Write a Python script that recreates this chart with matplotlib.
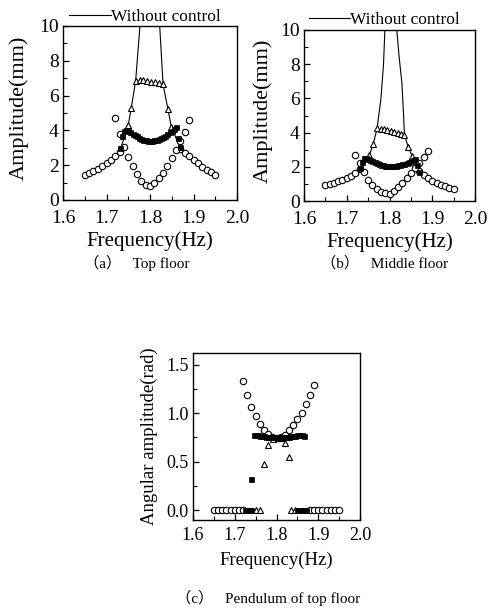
import numpy as np
import matplotlib
matplotlib.use("Agg")
import matplotlib.pyplot as plt
from matplotlib.ticker import MultipleLocator

plt.rcParams['font.family'] = ['Liberation Serif', 'Noto Sans CJK SC', 'DejaVu Sans']
plt.rcParams['mathtext.fontset'] = 'stix'

# ---------------- (a) Top floor ----------------
a_out_l_f = [1.65, 1.66, 1.67, 1.68, 1.69, 1.70, 1.71, 1.72, 1.73]
a_out_l = [1.45, 1.55, 1.65, 1.78, 1.93, 2.10, 2.30, 2.50, 2.78]
a_out_r_f = [1.87, 1.88, 1.89, 1.90, 1.91, 1.92, 1.93, 1.94, 1.95]
a_out_r = [2.95, 2.70, 2.50, 2.30, 2.10, 1.92, 1.75, 1.60, 1.42]
a_in_f = [1.72, 1.73, 1.74, 1.75, 1.76, 1.77, 1.78, 1.79, 1.80,
          1.81, 1.82, 1.83, 1.84, 1.85, 1.86, 1.87, 1.88, 1.89]
a_in = [4.70, 3.80, 3.05, 2.45, 1.95, 1.50, 1.10, 0.85, 0.82,
        1.00, 1.25, 1.55, 1.95, 2.40, 2.90, 3.40, 3.90, 4.60]
a_sq_f = [1.730, 1.735, 1.740, 1.745, 1.750, 1.755, 1.760, 1.765, 1.770, 1.775,
          1.780, 1.785, 1.790, 1.795, 1.800, 1.805, 1.810, 1.815, 1.820, 1.825,
          1.830, 1.835, 1.840, 1.845, 1.850, 1.855, 1.860, 1.865, 1.870]
a_sq = [3.00, 3.65, 3.95, 4.05, 4.00, 3.90, 3.82, 3.74, 3.66, 3.58,
        3.52, 3.47, 3.43, 3.41, 3.40, 3.41, 3.43, 3.46, 3.50, 3.56,
        3.62, 3.70, 3.78, 3.88, 3.98, 4.10, 4.20, 3.55, 3.05]
a_tri_f = [1.750, 1.757, 1.767, 1.776, 1.785, 1.794, 1.803, 1.812, 1.821, 1.830, 1.841, 1.849]
a_tri = [4.30, 5.30, 6.85, 6.90, 6.88, 6.85, 6.80, 6.76, 6.72, 6.65, 5.25, 4.20]
a_nc_f = [1.65, 1.67, 1.69, 1.71, 1.73, 1.75, 1.757, 1.767, 1.78, 1.80,
          1.82, 1.83, 1.841, 1.849, 1.87, 1.89, 1.91, 1.93, 1.95]
a_nc = [1.45, 1.65, 1.93, 2.30, 2.78, 4.30, 5.30, 6.85, 11.0, 20.0,
        11.0, 6.65, 5.25, 4.20, 2.95, 2.50, 2.10, 1.75, 1.42]

# ---------------- (b) Middle floor ----------------
b_out_l_f = [1.65, 1.66, 1.67, 1.68, 1.69, 1.70, 1.71, 1.72, 1.73]
b_out_l = [0.95, 1.02, 1.08, 1.15, 1.24, 1.35, 1.48, 1.62, 1.85]
b_out_r_f = [1.87, 1.88, 1.89, 1.90, 1.91, 1.92, 1.93, 1.94, 1.95]
b_out_r = [1.75, 1.52, 1.33, 1.18, 1.05, 0.95, 0.87, 0.78, 0.68]
b_in_f = [1.72, 1.73, 1.74, 1.75, 1.76, 1.77, 1.78, 1.79, 1.80,
          1.81, 1.82, 1.83, 1.84, 1.85, 1.86, 1.87, 1.88, 1.89]
b_in = [2.70, 2.20, 1.70, 1.25, 0.95, 0.70, 0.55, 0.46, 0.42,
        0.58, 0.80, 1.05, 1.35, 1.65, 1.95, 2.25, 2.60, 2.95]
b_sq_f = [1.730, 1.735, 1.740, 1.745, 1.750, 1.755, 1.760, 1.765, 1.770, 1.775,
          1.780, 1.785, 1.790, 1.795, 1.800, 1.805, 1.810, 1.815, 1.820, 1.825,
          1.830, 1.835, 1.840, 1.845, 1.850, 1.855, 1.860, 1.865, 1.870]
b_sq = [1.95, 2.30, 2.50, 2.52, 2.47, 2.40, 2.33, 2.27, 2.22, 2.17,
        2.13, 2.10, 2.07, 2.05, 2.04, 2.04, 2.05, 2.07, 2.09, 2.12,
        2.15, 2.19, 2.24, 2.30, 2.36, 2.42, 2.45, 2.10, 1.72]
b_tri_f = [1.753, 1.762, 1.771, 1.779, 1.787, 1.795, 1.803, 1.811, 1.819, 1.827, 1.835, 1.844, 1.853]
b_tri = [2.69, 3.33, 4.25, 4.23, 4.20, 4.16, 4.11, 4.06, 4.00, 3.94, 3.86, 3.15, 2.62]
b_nc_f = [1.65, 1.67, 1.69, 1.71, 1.73, 1.745, 1.753, 1.762, 1.771, 1.78, 1.786, 1.79, 1.80,
          1.81, 1.817, 1.823, 1.829, 1.833, 1.835, 1.844, 1.853, 1.862, 1.87, 1.89, 1.91, 1.93, 1.95]
b_nc = [0.95, 1.08, 1.24, 1.48, 1.85, 2.30, 2.69, 3.33, 4.25, 6.0, 8.0, 10.5, 20.0,
        13.0, 10.0, 8.3, 6.9, 5.0, 3.86, 3.15, 2.62, 2.20, 1.75, 1.33, 1.05, 0.87, 0.68]

# ---------------- (c) Pendulum of top floor ----------------
c_circ_f = [1.72, 1.73, 1.74, 1.75, 1.76, 1.77, 1.78, 1.79, 1.80,
            1.81, 1.82, 1.83, 1.84, 1.85, 1.86, 1.87, 1.88, 1.89]
c_circ = [1.33, 1.19, 1.06, 0.97, 0.89, 0.83, 0.79, 0.76, 0.745,
          0.75, 0.78, 0.83, 0.88, 0.94, 1.00, 1.09, 1.19, 1.29]
c_circ0_f = [1.65, 1.66, 1.67, 1.68, 1.69, 1.70, 1.71, 1.72,
             1.88, 1.89, 1.90, 1.91, 1.92, 1.93, 1.94, 1.95]
c_sq0_f = [1.724, 1.729, 1.734, 1.739, 1.850, 1.855, 1.860, 1.865, 1.870]
c_sq_f = [1.740, 1.745, 1.750, 1.755, 1.760, 1.765, 1.770, 1.775, 1.780, 1.785,
          1.790, 1.795, 1.800, 1.805, 1.810, 1.815, 1.820, 1.825, 1.830, 1.835,
          1.840, 1.845, 1.850, 1.855, 1.860, 1.865]
c_sq = [0.326, 0.78, 0.78, 0.775, 0.77, 0.77, 0.765, 0.76, 0.76, 0.755,
        0.755, 0.75, 0.75, 0.75, 0.75, 0.755, 0.755, 0.76, 0.76, 0.765,
        0.77, 0.77, 0.775, 0.775, 0.775, 0.765]
c_tri_f = [1.769, 1.780, 1.792, 1.803, 1.811, 1.821, 1.831]
c_tri = [0.48, 0.676, 0.735, 0.745, 0.74, 0.694, 0.55]
c_tri0_f = [1.750, 1.760, 1.835, 1.845]

W, H = 490, 610
fig = plt.figure(figsize=(W / 100, H / 100), dpi=100)


def box(l, t, r, b):
    return [l / W, 1 - b / H, (r - l) / W, (b - t) / H]


def style(ax, fs):
    ax.xaxis.set_major_locator(MultipleLocator(0.1))
    ax.xaxis.set_minor_locator(MultipleLocator(0.05))
    ax.tick_params(which='both', direction='in', top=False, right=False, labelsize=fs)
    ax.tick_params(axis='x', pad=7)
    ax.tick_params(axis='y', pad=3)
    ax.tick_params(which='major', length=4, width=0.9)
    ax.tick_params(which='minor', length=3, width=0.8)
    for s in ax.spines.values():
        s.set_linewidth(1.0)


circ = dict(ls='none', marker='o', ms=4.6, mfc='white', mec='black', mew=0.8, zorder=3)
tri = dict(ls='none', marker='^', ms=4.6, mfc='white', mec='black', mew=0.8, zorder=4)
sq = dict(ls='none', marker='s', ms=3.6, mfc='black', mec='black', mew=0.5, zorder=5)


def floor_panel(rect, nc_f, nc, out_l_f, out_l, out_r_f, out_r, in_f, inn,
                sq_f, sqv, tri_f, triv, lab_x, leg_x, leg_y):
    ax = fig.add_axes(rect)
    ax.plot(nc_f, nc, color='black', lw=0.8, label='Without control', zorder=2)
    ax.plot(out_l_f, out_l, **circ)
    ax.plot(out_r_f, out_r, **circ)
    ax.plot(in_f, inn, **circ)
    ax.plot(sq_f, sqv, **sq)
    ax.plot(tri_f, triv, **tri)
    ax.set_xlim(1.6, 2.0)
    ax.set_ylim(0, 10)
    ax.yaxis.set_major_locator(MultipleLocator(2))
    ax.yaxis.set_minor_locator(MultipleLocator(1))
    style(ax, 14)
    ax.set_xlabel('Frequency(Hz)', fontsize=15)
    ax.set_ylabel('Amplitude(mm)', fontsize=16)
    ax.xaxis.set_label_coords(0.5, -0.18)
    ax.yaxis.set_label_coords(lab_x, 0.53)
    ax.legend(loc='center', bbox_to_anchor=(leg_x, leg_y), frameon=False,
              fontsize=12.5, handlelength=2.4, handletextpad=0.0,
              borderpad=0, borderaxespad=0)
    return ax


floor_panel(box(63, 26, 237, 200), a_nc_f, a_nc, a_out_l_f, a_out_l, a_out_r_f, a_out_r,
            a_in_f, a_in, a_sq_f, a_sq, a_tri_f, a_tri, -0.195, 0.47, 1.052)
floor_panel(box(304, 30, 475, 201), b_nc_f, b_nc, b_out_l_f, b_out_l, b_out_r_f, b_out_r,
            b_in_f, b_in, b_sq_f, b_sq, b_tri_f, b_tri, -0.18, 0.47, 1.058)

axc = fig.add_axes(box(193, 353, 360, 520))
axc.plot(c_circ0_f, np.zeros(len(c_circ0_f)), **circ)
axc.plot(c_circ_f, c_circ, **circ)
axc.plot(c_sq0_f, np.zeros(len(c_sq0_f)), **sq)
axc.plot(c_sq_f, c_sq, **sq)
axc.plot(c_tri0_f, np.zeros(len(c_tri0_f)), **tri)
axc.plot(c_tri_f, c_tri, **tri)
axc.set_xlim(1.6, 2.0)
axc.set_ylim(-0.1, 1.62)
axc.yaxis.set_major_locator(MultipleLocator(0.5))
axc.yaxis.set_minor_locator(MultipleLocator(0.25))
axc.yaxis.set_major_formatter(matplotlib.ticker.FormatStrFormatter('%.1f'))
style(axc, 13)
axc.tick_params(axis='x', pad=5)
axc.set_xlabel('Frequency(Hz)', fontsize=13.5)
axc.set_ylabel('Angular amplitude(rad)', fontsize=13.5)
axc.xaxis.set_label_coords(0.5, -0.19)
axc.yaxis.set_label_coords(-0.21, 0.5)

cap = dict(fontsize=11, ha='center', va='center')
fig.text(137 / W, 1 - 263 / H, '（a）   Top floor', **cap)
fig.text(385 / W, 1 - 263 / H, '（b）   Middle floor', **cap)
fig.text(268 / W, 1 - 598 / H, '（c）   Pendulum of top floor', **cap)

fig.savefig('out.png', dpi=100)
